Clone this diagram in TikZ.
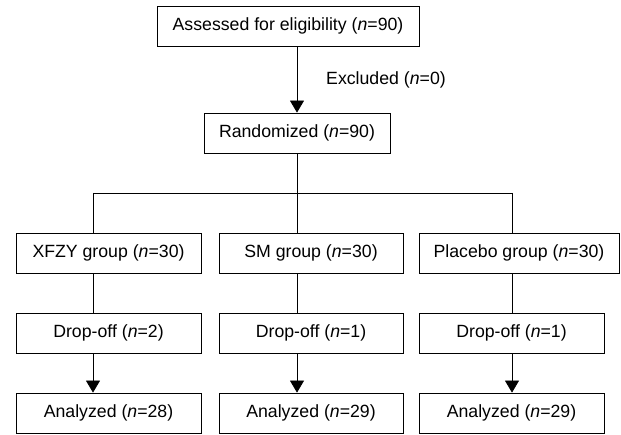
\documentclass[tikz,border=0pt]{standalone}
\usepackage{xcolor}
\usepackage{fontspec}
\setmainfont{Liberation Sans}
\usepackage{tikz}
\usetikzlibrary{shapes,arrows,arrows.meta,positioning}

\begin{document}
\begin{tikzpicture}[
    x=1pt, y=-1pt,
    stage/.style={rectangle, draw, line width=0.8pt, minimum height=40pt, inner sep=0pt, align=center,
        font=\fontsize{17.7}{21}\selectfont},
    link/.style={line width=0.7pt},
    arr/.style={line width=0.7pt, -{Triangle[width=14pt,length=12pt]}}
]
    \useasboundingbox (0,0) rectangle (621,435);

    \node[stage, minimum width=262pt] (assess) at (288,26) {Assessed for eligibility (\textit{n}=90)};
    \node[stage, minimum width=186pt] (rand) at (297,133) {Randomized (\textit{n}=90)};
    \node[anchor=west, inner sep=0pt, font=\fontsize{17.7}{21}\selectfont] (excl) at (326,80) {Excluded (\textit{n}=0)};

    \node[stage, minimum width=185pt] (xfzy) at (108.5,253) {XFZY group (\textit{n}=30)};
    \node[stage, minimum width=184pt] (sm) at (311,253) {SM group (\textit{n}=30)};
    \node[stage, minimum width=200pt] (placebo) at (519,253) {Placebo group (\textit{n}=30)};

    \node[stage, minimum width=185pt] (drop1) at (108.5,333) {Drop-off (\textit{n}=2)};
    \node[stage, minimum width=184pt] (drop2) at (311,333) {Drop-off (\textit{n}=1)};
    \node[stage, minimum width=185pt] (drop3) at (511.5,333) {Drop-off (\textit{n}=1)};

    \node[stage, minimum width=185pt] (ana1) at (108.5,413) {Analyzed (\textit{n}=28)};
    \node[stage, minimum width=184pt] (ana2) at (311,413) {Analyzed (\textit{n}=29)};
    \node[stage, minimum width=185pt] (ana3) at (511.5,413) {Analyzed (\textit{n}=29)};

    \coordinate (col1) at (93,193);
    \coordinate (col2) at (297,193);
    \coordinate (col3) at (512,193);

    \draw[arr] (assess.south -| rand) -- (rand.north);
    \draw[link] (rand.south) -- (col2);
    \draw[link] (col1) -- (col3);

    \draw[link] (col1) -- (col1 |- xfzy.north);
    \draw[link] (col2) -- (col2 |- sm.north);
    \draw[link] (col3) -- (col3 |- placebo.north);

    \draw[link] (col1 |- xfzy.south) -- (col1 |- drop1.north);
    \draw[link] (col2 |- sm.south) -- (col2 |- drop2.north);
    \draw[link] (col3 |- placebo.south) -- (col3 |- drop3.north);

    \draw[arr] (col1 |- drop1.south) -- (col1 |- ana1.north);
    \draw[arr] (col2 |- drop2.south) -- (col2 |- ana2.north);
    \draw[arr] (col3 |- drop3.south) -- (col3 |- ana3.north);
\end{tikzpicture}
\end{document}
